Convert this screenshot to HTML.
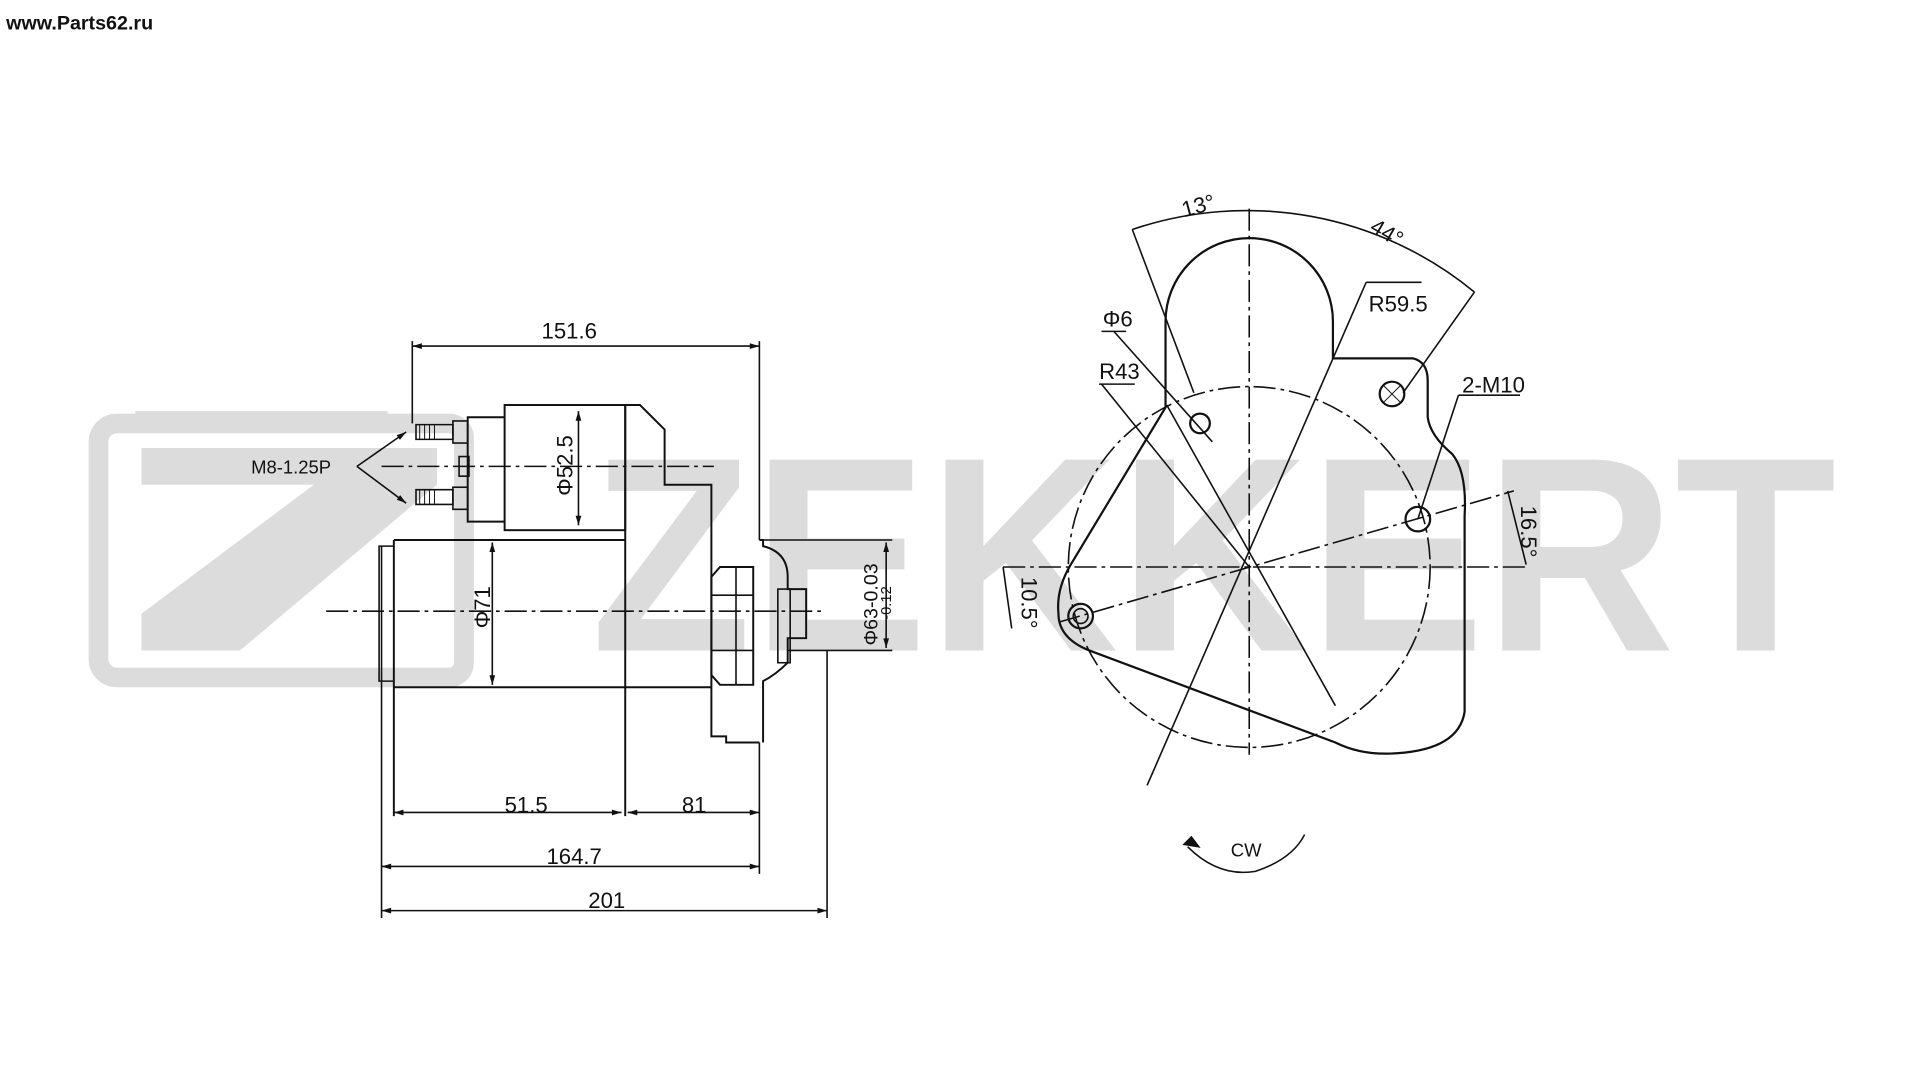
<!DOCTYPE html>
<html><head><meta charset="utf-8"><style>
html,body{margin:0;padding:0;background:#fff;width:1920px;height:1080px;overflow:hidden}
svg{display:block}
text{font-family:"Liberation Sans Narrow","Liberation Sans",sans-serif;fill:#111}
</style></head><body>
<svg width="1920" height="1080" viewBox="0 0 1560 880" preserveAspectRatio="none" xmlns="http://www.w3.org/2000/svg">
<defs>
<marker id="a" viewBox="0 0 10 10" refX="10" refY="5" markerWidth="8" markerHeight="6" orient="auto-start-reverse"><path d="M0,2 L10,5 L0,8z" fill="#111"/></marker>
</defs>
<rect width="1560" height="880" fill="#fff"/>
<!-- watermark -->
<g fill="#dcdcdc">
<path d="M100,345 H365 a12,12 0 0 1 12,12 V540 a12,12 0 0 1 -12,12 H95 a15,15 0 0 1 -15,-15 V360 a15,15 0 0 1 15,-15z" fill="none" stroke="#dcdcdc" stroke-width="16"/>
<polygon points="115,365 355,365 355,395 195,530 115,530 115,500 255,395 115,395"/>
<polygon points="110,335 315,335 315,345 110,345" fill="#dcdcdc"/>
<text x="480" y="530" font-size="226" font-weight="bold" textLength="1012" lengthAdjust="spacingAndGlyphs" style="fill:#dcdcdc;font-family:'Liberation Sans',sans-serif">ZEKKERT</text>
</g>
<text x="5" y="24" font-size="16" font-weight="bold" style="font-family:'Liberation Sans',sans-serif">www.Parts62.ru</text>

<g stroke="#111" fill="none" stroke-width="1.3">
<line x1="335" y1="282" x2="617" y2="282" marker-start="url(#a)" marker-end="url(#a)"/>
<line x1="335" y1="278" x2="335" y2="345"/>
<line x1="617" y1="278" x2="617" y2="440"/>
<rect x="410" y="330" width="98" height="102" stroke-width="1.6"/>
<path d="M410,340 H380 V425 H410" stroke-width="1.6"/>
<rect x="368" y="343" width="12" height="18"/><rect x="368" y="397" width="12" height="18"/>
<path d="M338,346 h30 v12 h-30z M338,399 h30 v12 h-30z"/>
<path d="M341,346v12 M345,346v12 M349,346v12 M353,346v12 M341,399v12 M345,399v12 M349,399v12 M353,399v12" stroke-width="0.8"/>
<rect x="373" y="372" width="8" height="16"/>
<path d="M508,330 H520 L540,350 V395 H578 V600 H590 V605 H617" stroke-width="1.6"/>
<line x1="310" y1="380" x2="580" y2="380" stroke-dasharray="18,4,3,4"/>
<line x1="290" y1="380" x2="330" y2="352" marker-end="url(#a)"/>
<line x1="290" y1="380" x2="330" y2="410" marker-end="url(#a)"/>
<line x1="470" y1="335" x2="470" y2="428" marker-start="url(#a)" marker-end="url(#a)"/>
<path d="M320,440 H508 M320,560 H508 M320,440 V665 M508,330 V665" stroke-width="1.6"/>
<path d="M320,445 H308 V555 H320"/>
<line x1="400" y1="442" x2="400" y2="558" marker-start="url(#a)" marker-end="url(#a)"/>
<path d="M578,560 H508 M617,440 H620 V445 Q640,450 640,470 V480 H655 V520 H640 V540 Q630,550 620,555 V605" stroke-width="1.6"/>
<path d="M585,462 H612 V558 H585 L578,550 V470z" stroke-width="1.6"/>
<path d="M578,485 H612 M578,530 H612 M598,462 V558"/>
<rect x="632" y="480" width="10" height="60"/>
<line x1="620" y1="440" x2="725" y2="440"/>
<line x1="640" y1="530" x2="725" y2="530"/>
<line x1="720" y1="442" x2="720" y2="528" marker-start="url(#a)" marker-end="url(#a)"/>
<line x1="265" y1="498" x2="670" y2="498" stroke-dasharray="18,4,3,4"/>
<line x1="310" y1="445" x2="310" y2="748"/>
<line x1="672" y1="530" x2="672" y2="748"/>
<line x1="617" y1="605" x2="617" y2="712"/>
<line x1="320" y1="662" x2="505" y2="662" marker-start="url(#a)" marker-end="url(#a)"/>
<line x1="510" y1="662" x2="617" y2="662" marker-start="url(#a)" marker-end="url(#a)"/>
<line x1="310" y1="706" x2="617" y2="706" marker-start="url(#a)" marker-end="url(#a)"/>
<line x1="310" y1="742" x2="672" y2="742" marker-start="url(#a)" marker-end="url(#a)"/>

<circle cx="1015" cy="462" r="147" stroke-dasharray="18,4,3,4"/>
<line x1="1015" y1="170" x2="1015" y2="615" stroke-dasharray="18,4,3,4"/>
<line x1="815" y1="462" x2="1240" y2="462" stroke-dasharray="18,4,3,4"/>
<line x1="860" y1="507" x2="1230" y2="400" stroke-dasharray="18,4,3,4"/>
<path d="M947,332 V262 A68,68 0 0 1 1083,262 V292 H1148 Q1160,295 1160,310 V340 Q1162,355 1180,370 Q1192,385 1190,420 V580 Q1185,612 1130,614 Q1105,615 1085,605 L885,530 Q860,520 860,500 Q858,480 870,460 L947,332z" stroke-width="1.8"/>
<circle cx="975" cy="345" r="8" stroke-width="1.8"/>
<circle cx="1131" cy="321" r="10" stroke-width="1.8"/><path d="M1124,314 l14,14 M1138,314 l-14,14" stroke-width="0.8"/>
<circle cx="1152" cy="423" r="10" stroke-width="1.8"/>
<circle cx="878" cy="502" r="10" stroke-width="1.8"/><circle cx="878" cy="502" r="6"/>
<path d="M920,187 A290,290 0 0 1 1198,238"/>
<line x1="920" y1="187" x2="970" y2="320"/>
<line x1="1198" y1="238" x2="1140" y2="320"/>
<line x1="1085" y1="575" x2="948" y2="330"/>
<line x1="932" y1="640" x2="1110" y2="230"/>
<line x1="905" y1="270" x2="985" y2="360"/>
<line x1="895" y1="313" x2="1015" y2="462"/>
<line x1="1110" y1="230" x2="1155" y2="230"/>
<line x1="895" y1="270" x2="915" y2="270"/><line x1="893" y1="313" x2="922" y2="313"/>
<line x1="1185" y1="322" x2="1235" y2="322"/><line x1="1185" y1="322" x2="1152" y2="423"/>
<line x1="1225" y1="400" x2="1240" y2="460"/>
<line x1="815" y1="462" x2="822" y2="512"/>
<path d="M965,690 Q990,715 1020,710 Q1050,700 1060,680" />
<path d="M962,688 l12,2 l-6,-8z" fill="#111"/>
</g>
<g font-size="18">
<text x="440" y="276">151.6</text>
<text x="204" y="386" font-size="15">M8-1.25P</text>
<text x="410" y="662">51.5</text>
<text x="554" y="662">81</text>
<text x="444" y="704">164.7</text>
<text x="478" y="740">201</text>
<text transform="translate(465,404) rotate(-90)">Φ52.5</text>
<text transform="translate(398,512) rotate(-90)">Φ71</text>
<text transform="translate(713,526) rotate(-90)" font-size="16">Φ63-0.03</text>
<text transform="translate(724,505) rotate(-90)" font-size="12">-0.12</text>
<text transform="translate(962,177) rotate(-15)">13°</text>
<text transform="translate(1112,188) rotate(30)">44°</text>
<text x="896" y="266">Φ6</text>
<text x="893" y="309">R43</text>
<text x="1112" y="254">R59.5</text>
<text x="1188" y="320">2-M10</text>
<text transform="translate(1236,412) rotate(90)">16.5°</text>
<text transform="translate(830,470) rotate(90)">10.5°</text>
<text x="1000" y="698" font-size="15">CW</text>
</g>
</svg>
</body></html>
